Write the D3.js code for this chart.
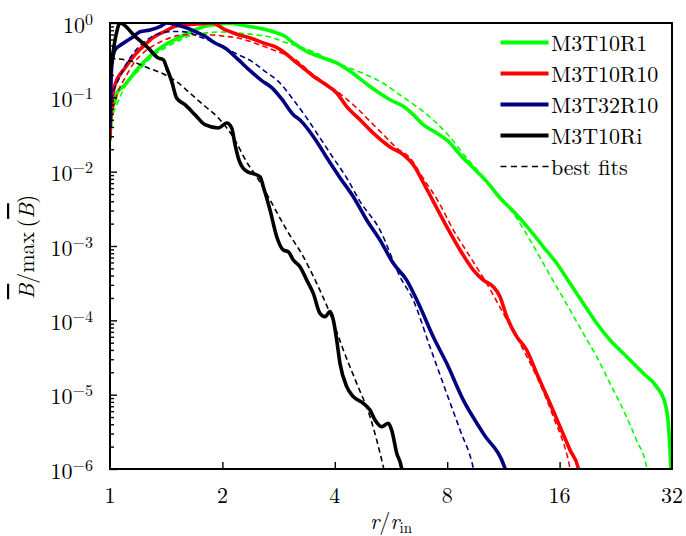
<!DOCTYPE html>
<html><head><meta charset="utf-8">
<script src="https://cdn.jsdelivr.net/npm/d3@7"></script>
<style>
body{margin:0;background:#fff}
svg{display:block}
</style>
</head><body>
<svg id="chart" width="686" height="536"></svg>
<script>
// ---------------- data ----------------
const seriesNames  = ["M3T10R1", "M3T10R10", "M3T32R10", "M3T10Ri"];
const seriesColors = ["#00ff00", "#ff0000", "#000080", "#000000"];
const fitLabel = "best fits";
const xTickValues = [1, 2, 4, 8, 16, 32];
const yTickExponents = [0, -1, -2, -3, -4, -5, -6];

// [r / r_in, B / max(B)]
const m3t10r1 = [[1.0,0.0267],[1.0105,0.0676],[1.0313,0.0885],[1.042,0.113],[1.097,0.148],[1.191,0.248],[1.293,0.375],[1.404,0.511],[1.524,0.629],[1.655,0.773],[1.796,0.903],[1.951,0.96],[2.05,0.99],[2.2,0.96],[2.35,0.9],[2.495,0.857],[2.711,0.773],[2.942,0.662],[3.097,0.538],[3.364,0.416],[3.727,0.338],[4.047,0.290],[4.393,0.224],[4.769,0.164],[5.180,0.1205],[5.622,0.0929],[6.10,0.0757],[6.49,0.0584],[6.90,0.0428],[7.50,0.0331],[8.14,0.0243],[8.66,0.0169],[9.40,0.0112],[10.2,0.00741],[11.08,0.00442],[12.03,0.00293],[13.33,0.00164],[14.47,9.77e-4],[15.71,5.85e-4],[17.06,3.15e-4],[18.52,1.69e-4],[20.11,9.12e-5],[21.83,5.43e-5],[24.2,3.24e-5],[26.8,1.94e-5],[29.1,1.28e-5],[30.65,7.65e-6],[31.28,4.11e-6],[31.61,1.8e-6],[31.75,1e-6],[31.8,5e-7]];
const m3t10r1Fit = [[1.0,0.0267],[1.0105,0.0476],[1.0525,0.0885],[1.119,0.164],[1.191,0.226],[1.293,0.349],[1.404,0.461],[1.524,0.573],[1.621,0.662],[1.796,0.734],[1.991,0.757],[2.206,0.734],[2.445,0.696],[2.711,0.64],[2.911,0.560],[3.227,0.480],[3.577,0.391],[3.963,0.301],[4.393,0.246],[4.869,0.1997],[5.395,0.1545],[5.98,0.1075],[6.63,0.0748],[7.34,0.0496],[7.975,0.0328],[9.02,0.0153],[9.99,0.00855],[11.08,0.0046],[12.28,0.00236],[13.33,0.0012],[14.47,5.85e-4],[15.71,2.83e-4],[17.06,1.38e-4],[18.52,6.68e-5],[20.11,3.24e-5],[21.83,1.42e-5],[23.7,6.21e-6],[25.7,2.45e-6],[27.4,1.02e-6],[27.8,6e-7]];

const m3t10r10 = [[1.0,0.0284],[1.006,0.0655],[1.0313,0.148],[1.097,0.248],[1.167,0.375],[1.241,0.511],[1.320,0.662],[1.404,0.773],[1.493,0.903],[1.588,0.949],[1.796,0.985],[1.876,1.0],[2.032,0.812],[2.206,0.696],[2.396,0.62],[2.601,0.53],[2.766,0.48],[2.942,0.395],[3.129,0.305],[3.294,0.248],[3.503,0.192],[3.727,0.156],[4.047,0.1143],[4.305,0.075],[4.672,0.05],[5.072,0.033],[5.622,0.0215],[6.10,0.0169],[6.49,0.0124],[6.90,0.0072],[7.34,0.00399],[7.975,0.00182],[8.66,8.83e-4],[9.40,4.75e-4],[9.99,3.48e-4],[10.63,2.83e-4],[11.08,2.08e-4],[11.55,1.12e-4],[12.28,6.03e-5],[13.06,3.99e-5],[13.89,1.94e-5],[15.08,7.65e-6],[16.04,3.71e-6],[17.06,1.8e-6],[17.96,1.02e-6],[18.3,6e-7]];
const m3t10r10Fit = [[1.0,0.0311],[1.0105,0.0527],[1.0525,0.1205],[1.097,0.182],[1.167,0.305],[1.241,0.416],[1.347,0.538],[1.463,0.642],[1.588,0.696],[1.796,0.70],[2.032,0.662],[2.23,0.619],[2.522,0.506],[2.737,0.433],[3.097,0.335],[3.503,0.2015],[3.883,0.1407],[4.216,0.1032],[4.578,0.0719],[4.970,0.0476],[5.395,0.0314],[5.86,0.0208],[6.36,0.0153],[6.90,0.00814],[7.56,0.00403],[8.31,0.00164],[9.21,7.18e-4],[10.2,3.15e-4],[11.31,1.24e-4],[12.53,4.91e-5],[13.89,1.75e-5],[15.39,5.05e-6],[17.06,1.02e-6],[17.3,7e-7]];

const m3t32r10 = [[1.0,0.0403],[1.0105,0.258],[1.0313,0.433],[1.0855,0.533],[1.1546,0.654],[1.203,0.764],[1.280,0.805],[1.361,0.892],[1.419,1.0],[1.556,0.903],[1.689,0.773],[1.796,0.662],[1.911,0.538],[2.032,0.461],[2.206,0.321],[2.347,0.24],[2.549,0.168],[2.711,0.135],[2.883,0.095],[3.097,0.0584],[3.227,0.0496],[3.577,0.0255],[3.805,0.0155],[4.130,0.0083],[4.484,0.0046],[4.869,0.00224],[5.286,0.0012],[5.737,5.85e-4],[6.23,3.48e-4],[6.764,1.52e-4],[7.34,6.0e-5],[7.975,2.64e-5],[8.83,8.5e-6],[9.99,3.02e-6],[11.43,1.02e-6],[11.7,7e-7]];
const m3t32r10Fit = [[1.0,0.0527],[1.0105,0.092],[1.0636,0.19],[1.1546,0.391],[1.254,0.590],[1.361,0.727],[1.477,0.77],[1.588,0.76],[1.724,0.662],[1.872,0.567],[2.032,0.461],[2.206,0.375],[2.396,0.305],[2.601,0.224],[2.823,0.164],[3.097,0.0929],[3.364,0.0527],[3.651,0.0284],[3.963,0.0153],[4.305,0.00822],[4.672,0.00399],[5.286,0.00164],[5.98,3.86e-4],[6.49,1.87e-4],[7.19,4.42e-5],[7.975,1.04e-5],[8.66,3.34e-6],[9.40,1.02e-6],[9.6,6e-7]];

const m3t10ri = [[1.0,0.2],[1.0124,0.32],[1.038,0.69],[1.0636,1.0],[1.167,0.66],[1.266,0.46],[1.347,0.338],[1.389,0.321],[1.419,0.248],[1.463,0.164],[1.508,0.098],[1.588,0.0796],[1.689,0.0584],[1.796,0.0428],[1.951,0.0387],[2.054,0.0451],[2.118,0.0387],[2.162,0.0231],[2.206,0.0153],[2.299,0.0105],[2.522,0.00855],[2.574,0.00628],[2.683,0.00305],[2.796,0.00133],[2.911,8.83e-4],[3.002,8.38e-4],[3.097,6.48e-4],[3.227,5.26e-4],[3.364,3.48e-4],[3.503,2.31e-4],[3.651,1.24e-4],[3.765,1.12e-4],[3.883,1.31e-4],[3.964,1.01e-4],[4.047,5.43e-5],[4.130,2.64e-5],[4.305,1.28e-5],[4.484,9.4e-6],[4.770,7.65e-6],[4.970,6.21e-6],[5.126,4.56e-6],[5.342,3.71e-6],[5.563,4.12e-6],[5.68,3.34e-6],[5.86,1.63e-6],[6.04,1.02e-6],[6.1,7e-7]];
const m3t10riFit = [[1.0,0.335],[1.143,0.305],[1.266,0.248],[1.404,0.201],[1.524,0.156],[1.655,0.1085],[1.796,0.0759],[1.951,0.0527],[2.118,0.0314],[2.347,0.0124],[2.471,0.00855],[2.683,0.00416],[2.973,0.00164],[3.294,7.18e-4],[3.577,3.15e-4],[3.883,1.24e-4],[4.216,3.99e-5],[4.578,1.42e-5],[4.970,5.06e-6],[5.395,1.07e-6],[5.5,7e-7]];

const solidSeries = [m3t10r1, m3t10r10, m3t32r10, m3t10ri];
const fitSeries   = [m3t10r1Fit, m3t10r10Fit, m3t32r10Fit, m3t10riFit];

// ---------------- chart ----------------
const FONT = '"Latin Modern Roman", "Liberation Serif", serif';
const svg = d3.select("#chart");
const L = 110, R = 672, T = 23, B = 469;
const x = d3.scaleLog().base(2).domain([1, 32]).range([L, R]);
const y = d3.scaleLog().domain([1e-6, 1]).range([B, T]);

svg.append("defs").append("clipPath").attr("id", "plotclip")
  .append("rect").attr("x", L).attr("y", T).attr("width", R - L).attr("height", B - T);

const line = d3.line().x(d => x(d[0])).y(d => y(d[1])).curve(d3.curveMonotoneX);
const plot = svg.append("g").attr("clip-path", "url(#plotclip)");

solidSeries.forEach((s, i) => {
  plot.append("path").datum(s).attr("d", line)
    .attr("fill", "none").attr("stroke", seriesColors[i])
    .attr("stroke-width", 3.6).attr("stroke-linejoin", "round").attr("stroke-linecap", "round");
  plot.append("path").datum(fitSeries[i]).attr("d", line)
    .attr("fill", "none").attr("stroke", seriesColors[i])
    .attr("stroke-width", 1.6).attr("stroke-dasharray", "5.5,3.5");
});

// y ticks (major + minor), inward
const yMajor = yTickExponents.map(e => Math.pow(10, e));
const yMinor = [];
yTickExponents.slice(0, -1).forEach(e => { for (let k = 2; k <= 9; k++) yMinor.push(k * Math.pow(10, e - 1)); });

const yAxisMajor = svg.append("g").attr("transform", `translate(${L},0)`)
  .call(d3.axisLeft(y).tickValues(yMajor).tickSizeInner(-7).tickSizeOuter(0).tickFormat(""));
const yAxisMinor = svg.append("g").attr("transform", `translate(${L},0)`)
  .call(d3.axisLeft(y).tickValues(yMinor).tickSizeInner(-4).tickSizeOuter(0).tickFormat(""));
const xAxis = svg.append("g").attr("transform", `translate(0,${B})`)
  .call(d3.axisBottom(x).tickValues(xTickValues.slice(1, -1)).tickSizeInner(-7).tickSizeOuter(0).tickFormat(""));
[yAxisMajor, yAxisMinor, xAxis].forEach(g => {
  g.select(".domain").remove();
  g.selectAll(".tick line").attr("stroke", "#000").attr("stroke-width", 1.4);
});

// frame
svg.append("rect").attr("x", L).attr("y", T).attr("width", R - L).attr("height", B - T)
  .attr("fill", "none").attr("stroke", "#000").attr("stroke-width", 2);

function txt(xp, yp, size, anchor) {
  return svg.append("text").attr("x", xp).attr("y", yp)
    .attr("text-anchor", anchor || "start")
    .style("font-family", FONT).style("font-size", size + "px").attr("fill", "#000");
}

// y tick labels
yTickExponents.forEach(e => {
  const t = txt(93, y(Math.pow(10, e)) + 9.5, 22, "end");
  t.append("tspan").text("10");
  t.append("tspan").style("font-size", "16px").attr("dy", -8).text(e < 0 ? "\u2212" + (-e) : String(e));
});

// x tick labels
xTickValues.forEach(v => { txt(x(v), 503, 22, "middle").text(String(v)); });

// x label
const xl = txt((L + R) / 2, 529, 22, "middle");
xl.append("tspan").style("font-style", "italic").text("r");
xl.append("tspan").text("/");
xl.append("tspan").style("font-style", "italic").text("r");
xl.append("tspan").style("font-size", "15px").attr("dy", 4).text("in");

// y label
const yl = txt(0, 0, 22, "middle").attr("transform", "translate(34,247) rotate(-90)");
yl.append("tspan").style("font-style", "italic").style("text-decoration", "overline").text("B");
yl.append("tspan").text("/max\u2009(");
yl.append("tspan").style("font-style", "italic").style("text-decoration", "overline").text("B");
yl.append("tspan").text(")");

// legend
const legY0 = 42.5, legDY = 31, lx0 = 500.5, lx1 = 548.5;
seriesNames.forEach((n, i) => {
  const yy = legY0 + i * legDY;
  svg.append("line").attr("x1", lx0).attr("x2", lx1).attr("y1", yy).attr("y2", yy)
    .attr("stroke", seriesColors[i]).attr("stroke-width", 4);
  txt(551, yy + 8, 22).text(n);
});
{
  const yy = legY0 + 4 * legDY;
  svg.append("line").attr("x1", lx0).attr("x2", lx1).attr("y1", yy).attr("y2", yy)
    .attr("stroke", "#000").attr("stroke-width", 1.6).attr("stroke-dasharray", "6,4.5");
  txt(551, yy + 8, 22).text(fitLabel);
}
</script>
</body></html>
